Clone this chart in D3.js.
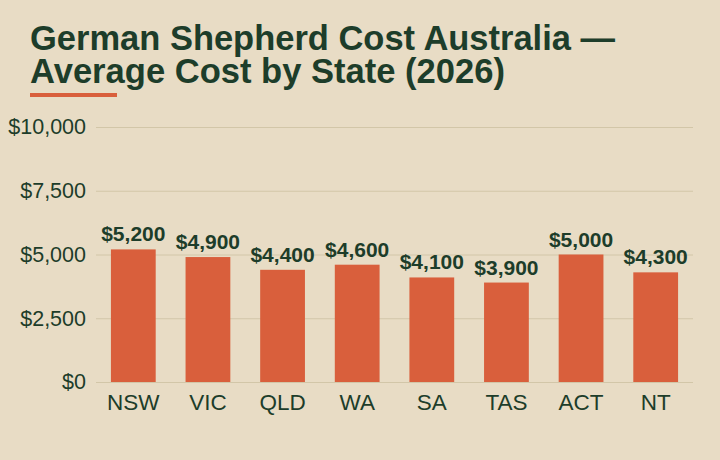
<!DOCTYPE html>
<html>
<head>
<meta charset="utf-8">
<script src="https://cdn.jsdelivr.net/npm/d3@7"></script>
<style>
    body { margin: 0; background: #e8dcc5; }
    svg { display: block; }
</style>
</head>
<body>
<div id="chart"></div>
<script>
// Data
const states = ['NSW', 'VIC', 'QLD', 'WA', 'SA', 'TAS', 'ACT', 'NT'];
const costs = [5200, 4900, 4400, 4600, 4100, 3900, 5000, 4300];
const yTicks = [0, 2500, 5000, 7500, 10000];
const titleLines = ['German Shepherd Cost Australia \u2014', 'Average Cost by State (2026)'];

// Constants
const WIDTH = 720;
const HEIGHT = 460;
const BG = '#e8dcc5';
const INK = '#1d3d2a';
const BAR = '#d95f3c';
const GRID = '#d2c6a8';
const LEFT = 96, RIGHT = 693, TOP = 127, BOTTOM = 382;
// widths the title lines take in the reference (narrow bold face)
const titleWidths = [585, 475];

const svg = d3.select('#chart')
    .append('svg').attr('width', WIDTH).attr('height', HEIGHT);

svg.append('rect').attr('width', WIDTH).attr('height', HEIGHT).attr('fill', BG);

// Title
svg.append('g')
    .selectAll('text')
    .data(titleLines)
    .join('text')
    .attr('x', 30)
    .attr('y', (d, i) => 50 + i * 33)
    .attr('fill', INK)
    .attr('font-family', '"Liberation Sans Narrow", "Liberation Sans", Arial, sans-serif')
    .attr('font-weight', 'bold')
    .attr('font-size', 35)
    .attr('textLength', (d, i) => titleWidths[i])
    .attr('lengthAdjust', 'spacingAndGlyphs')
    .text(d => d);

svg.append('rect')
    .attr('x', 30).attr('y', 93)
    .attr('width', 87).attr('height', 4)
    .attr('fill', BAR);

// Scales
const x = d3.scaleBand()
    .domain(states)
    .range([LEFT, RIGHT])
    .paddingInner(0.4)
    .paddingOuter(0.2);
const y = d3.scaleLinear()
    .domain([0, 10000])
    .range([BOTTOM, TOP]);

const money = d => '$' + d3.format(',')(d);

// Y axis with gridlines
const yAxis = d3.axisLeft(y)
    .tickValues(yTicks)
    .tickSize(-(RIGHT - LEFT))
    .tickPadding(10)
    .tickFormat(money);

svg.append('g')
    .attr('class', 'y-axis')
    .attr('transform', `translate(${LEFT},0)`)
    .call(yAxis)
    .call(g => g.select('.domain').remove())
    .call(g => g.selectAll('line').attr('stroke', GRID).attr('stroke-width', 1))
    .call(g => g.selectAll('text')
        .attr('fill', INK)
        .attr('font-family', '"Liberation Sans", Arial, sans-serif')
        .attr('font-size', 21.5));

// X axis
const xAxis = d3.axisBottom(x).tickSize(0).tickPadding(12);
svg.append('g')
    .attr('class', 'x-axis')
    .attr('transform', `translate(0,${BOTTOM})`)
    .call(xAxis)
    .call(g => g.select('.domain').remove())
    .call(g => g.selectAll('text')
        .attr('fill', INK)
        .attr('font-family', '"Liberation Sans", Arial, sans-serif')
        .attr('font-size', 22.5));

// Bars
svg.append('g')
    .selectAll('rect')
    .data(states)
    .join('rect')
    .attr('x', d => x(d))
    .attr('y', (d, i) => y(costs[i]))
    .attr('width', x.bandwidth())
    .attr('height', (d, i) => BOTTOM - y(costs[i]))
    .attr('fill', BAR);

// Value labels
svg.append('g')
    .selectAll('text')
    .data(states)
    .join('text')
    .attr('x', d => x(d) + x.bandwidth() / 2)
    .attr('y', (d, i) => y(costs[i]) - 8)
    .attr('text-anchor', 'middle')
    .attr('fill', INK)
    .attr('font-family', '"Liberation Sans", Arial, sans-serif')
    .attr('font-weight', 'bold')
    .attr('font-size', 21)
    .text((d, i) => money(costs[i]));
</script>
</body>
</html>
